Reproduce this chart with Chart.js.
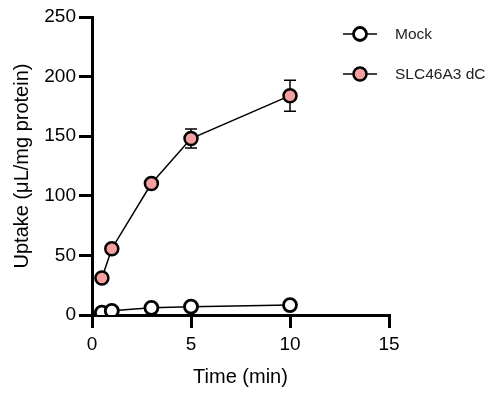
<!DOCTYPE html>
<html>
<head>
<meta charset="utf-8">
<script src="https://cdn.jsdelivr.net/npm/chart.js@4"></script>
<style>
    html, body { margin: 0; padding: 0; background: #fff; }
    #wrap { width: 489px; height: 394px; }
</style>
</head>
<body>
<div id="wrap"><canvas id="uptakeChart"></canvas></div>
<script>
    // values
    var timePoints = [0.5, 1, 3, 5, 10];
    var mockValues = [2, 3.5, 6, 7, 8.3];
    var mockErrors = [0.5, 0.5, 0.8, 1, 1];
    var slcValues = [31, 55.6, 110.3, 148, 184];
    var slcErrors = [2, 3, 3, 8, 13];
    var seriesLabels = ['Mock', 'SLC46A3 dC'];
    var xTicks = [0, 5, 10, 15];
    var yTicks = [0, 50, 100, 150, 200, 250];

    var FONT = "'Liberation Sans', Arial, sans-serif";
    var PINK = '#F4A0A0';

    function toPoints(xs, ys, errs) {
        return xs.map(function (x, i) {
            return { x: x, y: ys[i], err: errs[i] };
        });
    }

    // error bars behind the markers
    var errorBarPlugin = {
        id: 'errorBars',
        beforeDatasetsDraw: function (chart) {
            var ctx = chart.ctx;
            var xs = chart.scales.x, ys = chart.scales.y;
            ctx.save();
            ctx.strokeStyle = '#000';
            ctx.lineWidth = 1.5;
            chart.data.datasets.forEach(function (ds) {
                ds.data.forEach(function (p) {
                    if (!p.err) return;
                    var px = xs.getPixelForValue(p.x);
                    var top = ys.getPixelForValue(p.y + p.err);
                    var bot = ys.getPixelForValue(p.y - p.err);
                    ctx.beginPath();
                    ctx.moveTo(px, top); ctx.lineTo(px, bot);
                    ctx.moveTo(px - 6, top); ctx.lineTo(px + 6, top);
                    ctx.moveTo(px - 6, bot); ctx.lineTo(px + 6, bot);
                    ctx.stroke();
                });
            });
            ctx.restore();
        }
    };

    // legend: short line with marker, label to the right
    var legendPlugin = {
        id: 'sideLegend',
        afterDraw: function (chart) {
            var ctx = chart.ctx;
            ctx.save();
            chart.data.datasets.forEach(function (ds, i) {
                var y = 34 + i * 40;
                ctx.strokeStyle = '#000';
                ctx.lineWidth = 1.5;
                ctx.beginPath();
                ctx.moveTo(343, y); ctx.lineTo(377, y);
                ctx.stroke();
                ctx.beginPath();
                ctx.arc(360, y, ds.pointRadius, 0, Math.PI * 2);
                ctx.fillStyle = ds.pointBackgroundColor;
                ctx.fill();
                ctx.lineWidth = ds.pointBorderWidth;
                ctx.stroke();
                ctx.fillStyle = '#222';
                ctx.font = '15.5px ' + FONT;
                ctx.textAlign = 'left';
                ctx.textBaseline = 'middle';
                ctx.fillText(ds.label, 395, y + 1);
            });
            ctx.restore();
        }
    };

    var axisGrid = {
        display: true,
        drawOnChartArea: false,
        drawTicks: true,
        tickLength: 13,
        lineWidth: 3,
        color: '#000'
    };

    new Chart(document.getElementById('uptakeChart'), {
        type: 'scatter',
        data: {
            datasets: [{
                label: seriesLabels[0],
                data: toPoints(timePoints, mockValues, mockErrors),
                showLine: true,
                borderColor: '#000',
                borderWidth: 1.5,
                pointRadius: 6.5,
                pointBorderWidth: 2.8,
                pointBackgroundColor: '#fff',
                pointBorderColor: '#000'
            }, {
                label: seriesLabels[1],
                data: toPoints(timePoints, slcValues, slcErrors),
                showLine: true,
                borderColor: '#000',
                borderWidth: 1.5,
                pointRadius: 6.5,
                pointBorderWidth: 2.5,
                pointBackgroundColor: PINK,
                pointBorderColor: '#000'
            }]
        },
        options: {
            responsive: true,
            maintainAspectRatio: false,
            animation: false,
            events: [],
            layout: { padding: { top: 17, right: 100, left: 0, bottom: 0 } },
            plugins: {
                legend: { display: false },
                tooltip: { enabled: false }
            },
            scales: {
                x: {
                    type: 'linear',
                    min: xTicks[0],
                    max: xTicks[xTicks.length - 1],
                    afterBuildTicks: function (axis) {
                        axis.ticks = xTicks.map(function (v) { return { value: v }; });
                    },
                    afterFit: function (axis) { axis.height = 79; },
                    grid: axisGrid,
                    border: { display: true, width: 3, color: '#000' },
                    ticks: { color: '#000', padding: 5, maxRotation: 0, font: { family: FONT, size: 19 } },
                    title: {
                        display: true,
                        text: 'Time (min)',
                        color: '#000',
                        padding: { top: 0, bottom: 5 },
                        font: { family: FONT, size: 20 }
                    }
                },
                y: {
                    type: 'linear',
                    min: yTicks[0],
                    max: yTicks[yTicks.length - 1],
                    afterBuildTicks: function (axis) {
                        axis.ticks = yTicks.map(function (v) { return { value: v }; });
                    },
                    afterFit: function (axis) { axis.width = 92; },
                    grid: axisGrid,
                    border: { display: true, width: 3, color: '#000' },
                    ticks: { color: '#000', padding: 3, font: { family: FONT, size: 19 } },
                    title: {
                        display: true,
                        text: 'Uptake (\u03bcL/mg protein)',
                        color: '#000',
                        padding: { top: 10, bottom: 0 },
                        font: { family: FONT, size: 20 }
                    }
                }
            }
        },
        plugins: [errorBarPlugin, legendPlugin]
    });
</script>
</body>
</html>
